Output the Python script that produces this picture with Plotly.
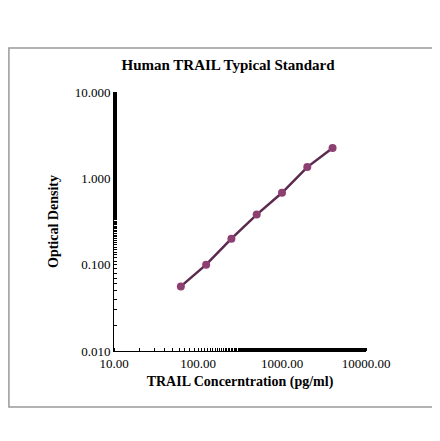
import plotly.graph_objects as go

conc = [62.5, 125, 250, 500, 1000, 2000, 4000]
od = [0.056, 0.100, 0.200, 0.380, 0.680, 1.350, 2.250]
xticks = [10, 100, 1000, 10000]
xlabels = ["10.00", "100.00", "1000.00", "10000.00"]
yticks = [0.01, 0.1, 1, 10]
ylabels = ["0.010", "0.100", "1.000", "10.000"]

font = "Liberation Serif"
fig = go.Figure()
fig.add_trace(go.Scatter(x=conc, y=od, mode="lines+markers",
                         line=dict(color="#5b2a4e", width=2.5),
                         marker=dict(color="#8e3f72", size=8)))
axis_common = dict(type="log", showgrid=False, showline=True, linecolor="black",
                   ticks="", zeroline=False,
                   minor=dict(ticks="inside", ticklen=3, tickcolor="black", showgrid=False))
fig.update_layout(
    width=440, height=441, showlegend=False,
    plot_bgcolor="white", paper_bgcolor="white",
    margin=dict(l=106, r=82, t=84, b=98),
    title=dict(text="<b>Human TRAIL Typical Standard</b>", x=0.5, xanchor="center",
               y=0.871, yanchor="middle",
               font=dict(family=font, size=15, color="black")),
    font=dict(family=font, size=13, color="black"),
    xaxis=dict(range=[1, 4], tickvals=xticks, ticktext=xlabels,
               title=dict(text="<b>TRAIL Concerntration (pg/ml)</b>", font=dict(size=14), standoff=6),
               **axis_common),
    yaxis=dict(range=[-2, 1], tickvals=yticks, ticktext=ylabels,
               title=dict(text="<b>Optical Density</b>", font=dict(size=14), standoff=12),
               **axis_common),
    shapes=[dict(type="rect", xref="paper", yref="paper", x0=-0.417, x1=1.313, y0=-0.216, y1=1.17,
                 line=dict(color="#999999", width=1.5))],
)
fig.write_html("out.html")
